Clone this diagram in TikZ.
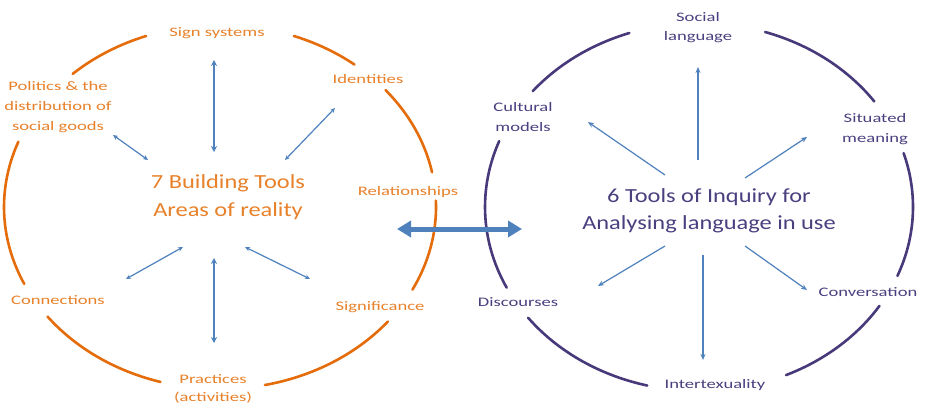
\documentclass[tikz,border=0pt]{standalone}
\usepackage{fontspec}
\setmainfont{Carlito}
\newfontfamily\toolfont[FakeStretch=1.43]{Carlito}
\newfontfamily\hubfont[FakeStretch=1.22]{Carlito}
\usetikzlibrary{arrows.meta}

\definecolor{ringorange}{HTML}{E46C0A}
\definecolor{textorange}{HTML}{E8812A}
\definecolor{ringpurple}{HTML}{47397A}
\definecolor{textpurple}{HTML}{4A4080}
\definecolor{arrowblue}{HTML}{4F81BD}

\tikzset{
  tool/.style={font={\toolfont\fontsize{13pt}{20pt}\selectfont}, align=center, inner sep=1pt},
  hub/.style={font={\hubfont\fontsize{20pt}{28pt}\selectfont}, align=center, inner sep=1pt},
  ring/.style={line width=2.6pt, line cap=round},
  thinarrow/.style={arrowblue, line width=1.2pt, {Stealth[length=5pt,width=4.5pt]}-{Stealth[length=5pt,width=4.5pt]}},
  thickarrow/.style={arrowblue, line width=2.4pt, {Stealth[length=6pt,width=6pt]}-{Stealth[length=6pt,width=6pt]}},
  outarrow/.style={arrowblue, line width=1.2pt, -{Stealth[length=6pt,width=5pt]}},
}

\begin{document}
\begin{tikzpicture}[x=1pt, y=-1pt]
  \fill[white] (0,0) rectangle (931,414);
  \useasboundingbox (0,0) rectangle (931,414);

  % building tools ring
  \foreach \a/\b in {110/133, 51.5/70, 11/40, -27/2, -78/-39, -143/-106, 159/205}
    \draw[ring, ringorange] plot[domain=\a:\b, samples=30, variable=\t]
      ({220+216*cos(\t)}, {207-182*sin(\t)});

  % inquiry ring
  \foreach \a/\b in {109/141, 35/72, -22/17, -66/-32.5, -143/-104, 159/206}
    \draw[ring, ringpurple] plot[domain=\a:\b, samples=30, variable=\t]
      ({699+214*cos(\t)}, {207-184*sin(\t)});

  \node[tool, textorange] (sign) at (217,33) {Sign systems};
  \node[tool, textorange] (ident) at (368,79) {Identities};
  \node[tool, textorange] (polit) at (58,107) {Politics \& the\\distribution of\\social goods};
  \node[tool, textorange] (relat) at (408,192) {Relationships};
  \node[tool, textorange] (conn) at (58,300) {Connections};
  \node[tool, textorange] (signif) at (380,307) {Significance};
  \node[tool, textorange, font={\toolfont\fontsize{13pt}{18pt}\selectfont}] (pract) at (213,389) {Practices\\(activities)};
  \node[hub, textorange] (build) at (228,197) {7 Building Tools\\Areas of reality};

  \node[tool, textpurple, font={\toolfont\fontsize{13pt}{19pt}\selectfont}] (social) at (698,28) {Social\\language};
  \node[tool, textpurple] (cult) at (523,117) {Cultural\\models};
  \node[tool, textpurple] (situ) at (875,129) {Situated\\meaning};
  \node[tool, textpurple] (disc) at (518,302) {Discourses};
  \node[tool, textpurple] (conv) at (868,292) {Conversation};
  \node[tool, textpurple] (inter) at (715,385) {Intertexuality};
  \node[hub, textpurple, font={\hubfont\fontsize{20pt}{27pt}\selectfont}] (inq) at (709,211) {6 Tools of Inquiry for\\Analysing language in use};

  % arrow ends
  \coordinate (build-n) at (214,152);
  \coordinate (sign-s) at (214,60);
  \coordinate (build-nw) at (148,160);
  \coordinate (polit-se) at (113,135);
  \coordinate (build-ne) at (285,160);
  \coordinate (ident-sw) at (335,108);
  \coordinate (build-s) at (214,258);
  \coordinate (pract-n) at (214,343);
  \coordinate (build-sw) at (183,247);
  \coordinate (conn-ne) at (126,279);
  \coordinate (build-se) at (245,247);
  \coordinate (signif-nw) at (310,279);

  \coordinate (inq-n) at (698,160);
  \coordinate (social-s) at (698,67);
  \coordinate (inq-nw) at (665,175);
  \coordinate (cult-se) at (588,122);
  \coordinate (inq-ne) at (745,178);
  \coordinate (situ-sw) at (807,137);
  \coordinate (inq-sw) at (665,246);
  \coordinate (disc-ne) at (598,286);
  \coordinate (inq-s) at (703,255);
  \coordinate (inter-n) at (703,360);
  \coordinate (inq-se) at (745,246);
  \coordinate (conv-nw) at (807,290);

  \coordinate (link-l) at (397,229);
  \coordinate (link-r) at (522,229);

  \draw[thickarrow] (sign-s) -- (build-n);
  \draw[thinarrow] (polit-se) -- (build-nw);
  \draw[thinarrow] (ident-sw) -- (build-ne);
  \draw[thickarrow] (build-s) -- (pract-n);
  \draw[thinarrow] (build-sw) -- (conn-ne);
  \draw[thinarrow] (build-se) -- (signif-nw);

  \draw[outarrow, line width=2.4pt] (inq-n) -- (social-s);
  \draw[outarrow] (inq-nw) -- (cult-se);
  \draw[outarrow] (inq-ne) -- (situ-sw);
  \draw[outarrow] (inq-sw) -- (disc-ne);
  \draw[outarrow, line width=1.5pt] (inq-s) -- (inter-n);
  \draw[outarrow] (inq-se) -- (conv-nw);

  \draw[arrowblue, line width=5pt, {Triangle[length=14pt,width=16pt]}-{Triangle[length=14pt,width=16pt]}] (link-l) -- (link-r);
\end{tikzpicture}
\end{document}
